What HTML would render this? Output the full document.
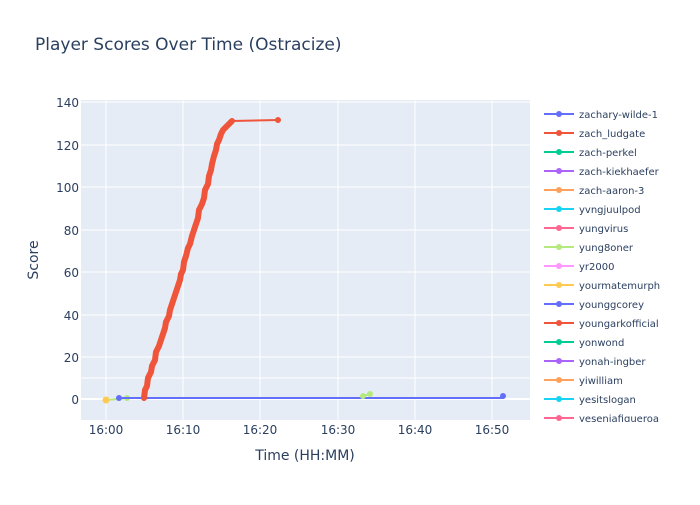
<!DOCTYPE html>
<html><head><meta charset="utf-8"><style>
body{margin:0;background:#fff;font-family:"Liberation Sans","DejaVu Sans",sans-serif;}
svg text{font-family:"DejaVu Sans","Liberation Sans",sans-serif;fill:#2a3f5f;}
</style></head><body>
<svg width="700" height="500" xmlns="http://www.w3.org/2000/svg">
<rect width="700" height="500" fill="#fff"/>
<text x="35" y="50" font-size="17">Player Scores Over Time (Ostracize)</text>
<rect x="81" y="100" width="449" height="320" fill="#e5ecf6"/>
<g stroke="#fff" stroke-width="1">
<line x1="81" x2="530" y1="378" y2="378"/><line x1="81" x2="530" y1="357" y2="357"/>
<line x1="81" x2="530" y1="315" y2="315"/><line x1="81" x2="530" y1="272" y2="272"/>
<line x1="81" x2="530" y1="230" y2="230"/><line x1="81" x2="530" y1="187" y2="187"/>
<line x1="81" x2="530" y1="145" y2="145"/><line x1="81" x2="530" y1="102" y2="102"/>
<line y1="100" y2="420" x1="106" x2="106"/><line y1="100" y2="420" x1="183" x2="183"/>
<line y1="100" y2="420" x1="260" x2="260"/><line y1="100" y2="420" x1="338" x2="338"/>
<line y1="100" y2="420" x1="415" x2="415"/><line y1="100" y2="420" x1="492" x2="492"/>
</g>
<line x1="81" x2="530" y1="399" y2="399" stroke="#fff" stroke-width="2"/>
<g font-size="12" text-anchor="end">
<text x="79" y="404">0</text><text x="79" y="362">20</text><text x="79" y="320">40</text>
<text x="79" y="277">60</text><text x="79" y="235">80</text><text x="79" y="192">100</text>
<text x="79" y="150">120</text><text x="79" y="107">140</text>
</g>
<g font-size="12" text-anchor="middle">
<text x="106" y="434">16:00</text><text x="183" y="434">16:10</text><text x="260" y="434">16:20</text>
<text x="338" y="434">16:30</text><text x="415" y="434">16:40</text><text x="492" y="434">16:50</text>
</g>
<text x="305" y="460" font-size="14" text-anchor="middle">Time (HH:MM)</text>
<text transform="translate(38,260) rotate(-90)" font-size="14" text-anchor="middle">Score</text>
<polyline points="106,400 130,398" stroke="#b6e880" stroke-width="2" fill="none"/>
<circle cx="127" cy="398" r="3" fill="#b6e880"/>
<polyline points="119,398 503,398 503,396" stroke="#636efa" stroke-width="2" fill="none"/>
<circle cx="119" cy="398" r="3" fill="#636efa"/><circle cx="503" cy="396" r="3" fill="#636efa"/>
<polyline points="363,396 370,394" stroke="#b6e880" stroke-width="2" fill="none"/>
<circle cx="363" cy="396" r="3" fill="#b6e880"/><circle cx="370" cy="394" r="3" fill="#b6e880"/>
<circle cx="106" cy="400" r="3.5" fill="#fecb52"/>
<polyline points="144,398 145,390 147,386 148,378 151,372 152,366 155,360 156,352 159,346 161,340 163,334 165,328 166,322 169,316 170,310 172,304 174,298 176,292 178,286 180,280 181,274 183,270 184,262 186,256 188,248 190,244 192,236 194,230 196,224 198,218 199,210 202,204 204,198 205,190 208,184 209,176 211,170 212,164 214,156 216,150 217,144 219,140 221,134 223,130 225,128 227,126 229,124 231,122 232,121" stroke="#ef553b" stroke-width="6" stroke-linejoin="round" stroke-linecap="round" fill="none"/>
<polyline points="232,121 278,120" stroke="#ef553b" stroke-width="2" fill="none"/>
<circle cx="278" cy="120" r="3" fill="#ef553b"/>
<g font-size="10">
<g transform="translate(544,114)"><line x1="0" x2="30" stroke="#636efa" stroke-width="2"/><circle cx="15" r="3" fill="#636efa"/><text x="35" y="4">zachary-wilde-1</text></g>
<g transform="translate(544,133)"><line x1="0" x2="30" stroke="#ef553b" stroke-width="2"/><circle cx="15" r="3" fill="#ef553b"/><text x="35" y="4">zach_ludgate</text></g>
<g transform="translate(544,152)"><line x1="0" x2="30" stroke="#00cc96" stroke-width="2"/><circle cx="15" r="3" fill="#00cc96"/><text x="35" y="4">zach-perkel</text></g>
<g transform="translate(544,171)"><line x1="0" x2="30" stroke="#ab63fa" stroke-width="2"/><circle cx="15" r="3" fill="#ab63fa"/><text x="35" y="4">zach-kiekhaefer</text></g>
<g transform="translate(544,190)"><line x1="0" x2="30" stroke="#ffa15a" stroke-width="2"/><circle cx="15" r="3" fill="#ffa15a"/><text x="35" y="4">zach-aaron-3</text></g>
<g transform="translate(544,209)"><line x1="0" x2="30" stroke="#19d3f3" stroke-width="2"/><circle cx="15" r="3" fill="#19d3f3"/><text x="35" y="4">yvngjuulpod</text></g>
<g transform="translate(544,228)"><line x1="0" x2="30" stroke="#ff6692" stroke-width="2"/><circle cx="15" r="3" fill="#ff6692"/><text x="35" y="4">yungvirus</text></g>
<g transform="translate(544,247)"><line x1="0" x2="30" stroke="#b6e880" stroke-width="2"/><circle cx="15" r="3" fill="#b6e880"/><text x="35" y="4">yung8oner</text></g>
<g transform="translate(544,266)"><line x1="0" x2="30" stroke="#ff97ff" stroke-width="2"/><circle cx="15" r="3" fill="#ff97ff"/><text x="35" y="4">yr2000</text></g>
<g transform="translate(544,285)"><line x1="0" x2="30" stroke="#fecb52" stroke-width="2"/><circle cx="15" r="3" fill="#fecb52"/><text x="35" y="4">yourmatemurph</text></g>
<g transform="translate(544,304)"><line x1="0" x2="30" stroke="#636efa" stroke-width="2"/><circle cx="15" r="3" fill="#636efa"/><text x="35" y="4">younggcorey</text></g>
<g transform="translate(544,323)"><line x1="0" x2="30" stroke="#ef553b" stroke-width="2"/><circle cx="15" r="3" fill="#ef553b"/><text x="35" y="4">youngarkofficial</text></g>
<g transform="translate(544,342)"><line x1="0" x2="30" stroke="#00cc96" stroke-width="2"/><circle cx="15" r="3" fill="#00cc96"/><text x="35" y="4">yonwond</text></g>
<g transform="translate(544,361)"><line x1="0" x2="30" stroke="#ab63fa" stroke-width="2"/><circle cx="15" r="3" fill="#ab63fa"/><text x="35" y="4">yonah-ingber</text></g>
<g transform="translate(544,380)"><line x1="0" x2="30" stroke="#ffa15a" stroke-width="2"/><circle cx="15" r="3" fill="#ffa15a"/><text x="35" y="4">yiwilliam</text></g>
<g transform="translate(544,399)"><line x1="0" x2="30" stroke="#19d3f3" stroke-width="2"/><circle cx="15" r="3" fill="#19d3f3"/><text x="35" y="4">yesitslogan</text></g>
<g transform="translate(544,418)"><line x1="0" x2="30" stroke="#ff6692" stroke-width="2"/><circle cx="15" r="3" fill="#ff6692"/><text x="35" y="4">yeseniafigueroa</text></g>
</g>
<rect x="535" y="422" width="165" height="20" fill="#fff"/>
</svg>
</body></html>
